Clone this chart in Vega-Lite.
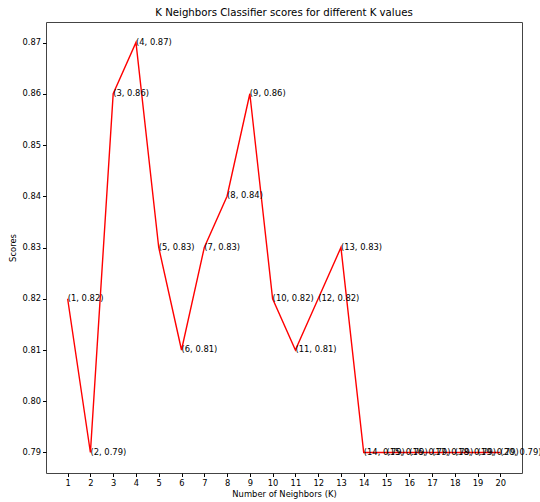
{
  "$schema": "https://vega.github.io/schema/vega-lite/v6.json",
  "width": 476,
  "height": 451,
  "autosize": {"type": "none"},
  "padding": {"left": 46, "top": 22, "right": 18, "bottom": 29},
  "background": "white",
  "title": {"text": "K Neighbors Classifier scores for different K values", "font": "DejaVu Sans", "fontSize": 10.2, "fontWeight": "normal", "color": "black", "offset": 4},
  "config": {
    "view": {"stroke": "#444", "strokeWidth": 1},
    "axis": {"grid": false, "domain": false, "tickColor": "black", "tickSize": 3.5, "labelFont": "DejaVu Sans", "labelFontSize": 8.3, "labelColor": "black", "titleFont": "DejaVu Sans", "titleFontSize": 8.4, "titleFontWeight": "normal", "titleColor": "black", "labelPadding": 2}
  },
  "data": {"values": [
    {"k": 1, "score": 0.82, "label": "(1, 0.82)"},
    {"k": 2, "score": 0.79, "label": "(2, 0.79)"},
    {"k": 3, "score": 0.86, "label": "(3, 0.86)"},
    {"k": 4, "score": 0.87, "label": "(4, 0.87)"},
    {"k": 5, "score": 0.83, "label": "(5, 0.83)"},
    {"k": 6, "score": 0.81, "label": "(6, 0.81)"},
    {"k": 7, "score": 0.83, "label": "(7, 0.83)"},
    {"k": 8, "score": 0.84, "label": "(8, 0.84)"},
    {"k": 9, "score": 0.86, "label": "(9, 0.86)"},
    {"k": 10, "score": 0.82, "label": "(10, 0.82)"},
    {"k": 11, "score": 0.81, "label": "(11, 0.81)"},
    {"k": 12, "score": 0.82, "label": "(12, 0.82)"},
    {"k": 13, "score": 0.83, "label": "(13, 0.83)"},
    {"k": 14, "score": 0.79, "label": "(14, 0.79)"},
    {"k": 15, "score": 0.79, "label": "(15, 0.79)"},
    {"k": 16, "score": 0.79, "label": "(16, 0.79)"},
    {"k": 17, "score": 0.79, "label": "(17, 0.79)"},
    {"k": 18, "score": 0.79, "label": "(18, 0.79)"},
    {"k": 19, "score": 0.79, "label": "(19, 0.79)"},
    {"k": 20, "score": 0.79, "label": "(20, 0.79)"}
  ]},
  "encoding": {
    "x": {"field": "k", "type": "quantitative", "scale": {"domain": [0.05, 20.95], "nice": false, "zero": false}, "axis": {"values": [1,2,3,4,5,6,7,8,9,10,11,12,13,14,15,16,17,18,19,20], "title": "Number of Neighbors (K)", "titlePadding": 3}},
    "y": {"field": "score", "type": "quantitative", "scale": {"domain": [0.786, 0.874], "nice": false, "zero": false}, "axis": {"values": [0.79,0.8,0.81,0.82,0.83,0.84,0.85,0.86,0.87], "format": ".2f", "title": "Scores", "titlePadding": 5}}
  },
  "layer": [
    {"mark": {"type": "line", "color": "red", "strokeWidth": 1.4, "clip": true}},
    {"mark": {"type": "text", "align": "left", "baseline": "middle", "dy": -1, "font": "DejaVu Sans", "fontSize": 8.4, "color": "black"}, "encoding": {"text": {"field": "label"}}}
  ]
}
